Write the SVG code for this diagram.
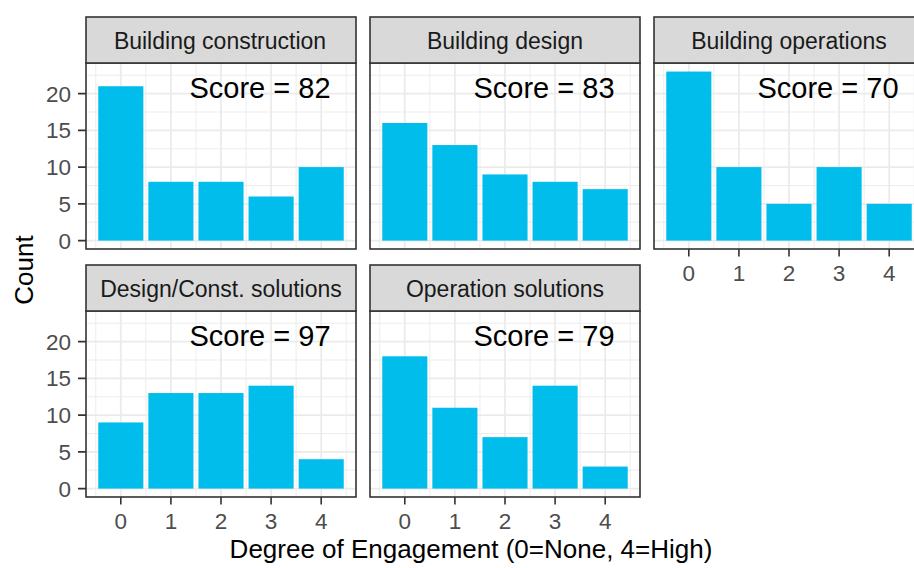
<svg xmlns="http://www.w3.org/2000/svg" width="914" height="568" viewBox="0 0 914 568">
<style>
text{font-family:"Liberation Sans",Arial,Helvetica,sans-serif}
.bg{fill:#FFFFFF}
.maj{stroke:#EBEBEB;stroke-width:1.8;fill:none}
.min{stroke:#EBEBEB;stroke-width:0.9;fill:none}
.bar{fill:#00BDEB}
.frame{fill:none;stroke:#333333;stroke-width:1.6}
.strip{fill:#D9D9D9;stroke:#333333;stroke-width:1.6}
.stxt{font-size:23px;fill:#1A1A1A;text-anchor:middle}
.score{font-size:29px;fill:#000000;text-anchor:middle}
.tick{stroke:#333333;stroke-width:1.6}
.ylab{font-size:22.5px;fill:#4D4D4D;text-anchor:end}
.xlab{font-size:22.5px;fill:#4D4D4D;text-anchor:middle}
.title{font-size:26px;fill:#000000;text-anchor:middle}
</style>
<defs>
<g id="grid">
<rect class="bg" x="0" y="0" width="270" height="186"/>
<path class="min" d="M0 159.2H270M0 122.5H270M0 85.7H270M0 49H270M0 12.2H270M9.75 0V186M59.85 0V186M109.95 0V186M160.05 0V186M210.15 0V186M260.25 0V186"/>
<path class="maj" d="M0 177.6H270M0 140.85H270M0 104.1H270M0 67.35H270M0 30.6H270M34.8 0V186M84.9 0V186M135 0V186M185.1 0V186M235.2 0V186"/>
</g>
<g id="yaxis">
<path class="tick" d="M-8 177.6H0M-8 140.85H0M-8 104.1H0M-8 67.35H0M-8 30.6H0"/>
<text class="ylab" x="-15" y="185.6">0</text>
<text class="ylab" x="-15" y="148.8">5</text>
<text class="ylab" x="-15" y="112.1">10</text>
<text class="ylab" x="-15" y="75.3">15</text>
<text class="ylab" x="-15" y="38.6">20</text>
</g>
<g id="xaxis">
<path class="tick" d="M34.8 186V193.5M84.9 186V193.5M135 186V193.5M185.1 186V193.5M235.2 186V193.5"/>
<text class="xlab" x="34.8" y="218">0</text>
<text class="xlab" x="84.9" y="218">1</text>
<text class="xlab" x="135" y="218">2</text>
<text class="xlab" x="185.1" y="218">3</text>
<text class="xlab" x="235.2" y="218">4</text>
</g>
</defs>

<g id="panel-building-construction" transform="translate(86,63)">
<use href="#grid"/>
<rect class="bar" x="12.25" y="23.25" width="45.1" height="154.35"/>
<rect class="bar" x="62.35" y="118.8" width="45.1" height="58.8"/>
<rect class="bar" x="112.45" y="118.8" width="45.1" height="58.8"/>
<rect class="bar" x="162.55" y="133.5" width="45.1" height="44.1"/>
<rect class="bar" x="212.65" y="104.1" width="45.1" height="73.5"/>
<text class="score" x="174" y="35.3">Score = 82</text>
<rect class="frame" x="0" y="0" width="270" height="186"/>
<rect class="strip" x="0" y="-46" width="270" height="46"/>
<text class="stxt" x="134" y="-14">Building construction</text>
<use href="#yaxis"/>
</g>

<g id="panel-building-design" transform="translate(370,63)">
<use href="#grid"/>
<rect class="bar" x="12.25" y="60" width="45.1" height="117.6"/>
<rect class="bar" x="62.35" y="82.05" width="45.1" height="95.55"/>
<rect class="bar" x="112.45" y="111.45" width="45.1" height="66.15"/>
<rect class="bar" x="162.55" y="118.8" width="45.1" height="58.8"/>
<rect class="bar" x="212.65" y="126.15" width="45.1" height="51.45"/>
<text class="score" x="174" y="35.3">Score = 83</text>
<rect class="frame" x="0" y="0" width="270" height="186"/>
<rect class="strip" x="0" y="-46" width="270" height="46"/>
<text class="stxt" x="135" y="-14">Building design</text>
</g>

<g id="panel-building-operations" transform="translate(654,63)">
<use href="#grid"/>
<rect class="bar" x="12.25" y="8.55" width="45.1" height="169.05"/>
<rect class="bar" x="62.35" y="104.1" width="45.1" height="73.5"/>
<rect class="bar" x="112.45" y="140.85" width="45.1" height="36.75"/>
<rect class="bar" x="162.55" y="104.1" width="45.1" height="73.5"/>
<rect class="bar" x="212.65" y="140.85" width="45.1" height="36.75"/>
<text class="score" x="174" y="35.3">Score = 70</text>
<rect class="frame" x="0" y="0" width="270" height="186"/>
<rect class="strip" x="0" y="-46" width="270" height="46"/>
<text class="stxt" x="135" y="-14">Building operations</text>
<use href="#xaxis"/>
</g>

<g id="panel-design-const-solutions" transform="translate(86,311)">
<use href="#grid"/>
<rect class="bar" x="12.25" y="111.45" width="45.1" height="66.15"/>
<rect class="bar" x="62.35" y="82.05" width="45.1" height="95.55"/>
<rect class="bar" x="112.45" y="82.05" width="45.1" height="95.55"/>
<rect class="bar" x="162.55" y="74.7" width="45.1" height="102.9"/>
<rect class="bar" x="212.65" y="148.2" width="45.1" height="29.4"/>
<text class="score" x="174" y="35.3">Score = 97</text>
<rect class="frame" x="0" y="0" width="270" height="186"/>
<rect class="strip" x="0" y="-46" width="270" height="46"/>
<text class="stxt" x="135" y="-14">Design/Const. solutions</text>
<use href="#yaxis"/>
<use href="#xaxis"/>
</g>

<g id="panel-operation-solutions" transform="translate(370,311)">
<use href="#grid"/>
<rect class="bar" x="12.25" y="45.3" width="45.1" height="132.3"/>
<rect class="bar" x="62.35" y="96.75" width="45.1" height="80.85"/>
<rect class="bar" x="112.45" y="126.15" width="45.1" height="51.45"/>
<rect class="bar" x="162.55" y="74.7" width="45.1" height="102.9"/>
<rect class="bar" x="212.65" y="155.55" width="45.1" height="22.05"/>
<text class="score" x="174" y="35.3">Score = 79</text>
<rect class="frame" x="0" y="0" width="270" height="186"/>
<rect class="strip" x="0" y="-46" width="270" height="46"/>
<text class="stxt" x="135" y="-14">Operation solutions</text>
<use href="#xaxis"/>
</g>

<g id="connectors"></g>

<g id="axis-titles">
<text class="title" x="471" y="558">Degree of Engagement (0=None, 4=High)</text>
<text class="title" transform="translate(33,270) rotate(-90)" x="0" y="0">Count</text>
</g>
</svg>
